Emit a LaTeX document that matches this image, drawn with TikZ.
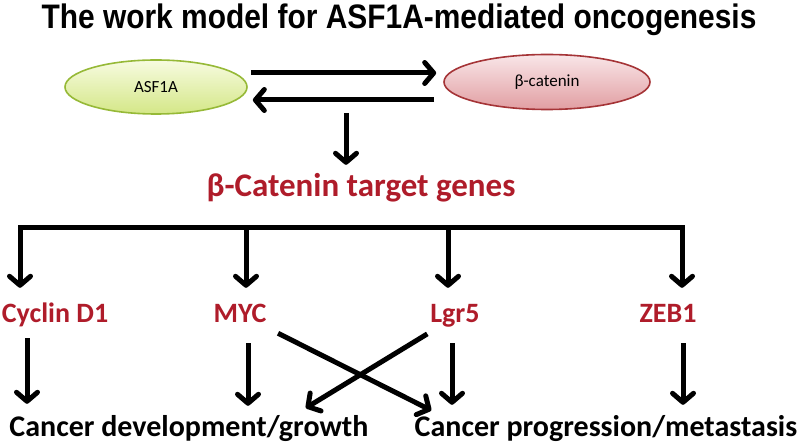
\documentclass[tikz,border=0pt]{standalone}
\usepackage{fontspec}
\setmainfont{Carlito}
\newfontfamily\titlefont{Liberation Sans}
\usetikzlibrary{arrows.meta,shapes.geometric}
\definecolor{genered}{RGB}{175,28,42}
\definecolor{asfedge}{RGB}{150,185,55}
\definecolor{asftop}{RGB}{247,251,224}
\definecolor{asfbottom}{RGB}{212,231,135}
\definecolor{catedge}{RGB}{165,52,55}
\definecolor{cattop}{RGB}{249,230,232}
\definecolor{catbottom}{RGB}{225,158,162}

\begin{document}
\begin{tikzpicture}[
  x=1pt, y=-1pt,
  protein/.style={ellipse, line width=1.6pt, minimum width=182pt, minimum height=54pt, font=\fontsize{17}{20}\selectfont},
  gene/.style={font=\bfseries\fontsize{28}{32}\selectfont, text=genered, inner sep=0pt, text height=20pt, text depth=6pt, anchor=base},
  outcome/.style={font=\bfseries\fontsize{30}{34}\selectfont, inner sep=0pt, text height=21pt, text depth=6pt, anchor=base},
  arrow/.style={-{Straight Barb[length=9pt,width=21pt,round]}, line width=5pt},
  bar/.style={line width=5pt, line cap=rect}
]
  \useasboundingbox (0,0) rectangle (798,443);

  \node[anchor=base, inner sep=0pt, font=\titlefont\bfseries\fontsize{34}{38}\selectfont] (title) at (399,29) {\scalebox{0.88}[1]{The work model for ASF1A-mediated oncogenesis}};

  % the two proteins
  \node[protein, draw=asfedge, top color=asftop, bottom color=asfbottom] (asf) at (156,87) {ASF1A};
  \node[protein, draw=catedge, top color=cattop, bottom color=catbottom, minimum width=206pt, minimum height=55pt] (bcat) at (547,82) {β-catenin};

  \draw[arrow] ([xshift=3pt,yshift=14pt]asf.east) -- ([xshift=-7pt,yshift=9pt]bcat.west);
  \draw[arrow] ([xshift=-9pt,yshift=-18pt]bcat.west) -- ([xshift=5pt,yshift=-13pt]asf.east);

  \node[gene, font=\bfseries\fontsize{33}{38}\selectfont, text height=23pt] (targets) at (361,197) {β-Catenin target genes};
  \coordinate (split) at (346,113);
  \draw[arrow, shorten >=9pt] (split) -- (split |- targets.north);

  % target genes
  \node[gene] (cyclin) at (55,323) {Cyclin D1};
  \node[gene] (myc) at (240,323) {MYC};
  \node[gene] (lgr) at (455,323) {Lgr5};
  \node[gene] (zeb) at (668,323) {ZEB1};

  \coordinate (b1) at (20,228);
  \coordinate (b2) at (246,228);
  \coordinate (b3) at (448,228);
  \coordinate (b4) at (682,228);
  \draw[bar] (b1) -- (b4);
  \draw[arrow, shorten >=15pt] (b1) -- (b1 |- cyclin.north);
  \draw[arrow, shorten >=15pt] (b2) -- (b2 |- myc.north);
  \draw[arrow, shorten >=15pt] (b3) -- (b3 |- lgr.north);
  \draw[arrow, shorten >=15pt] (b4) -- (b4 |- zeb.north);

  % outcomes
  \node[outcome] (devel) at (189,437) {Cancer development/growth};
  \node[outcome] (progr) at (606,437) {Cancer progression/metastasis};

  \draw[arrow, shorten <=9pt, shorten >=12pt] (cyclin.south -| 27,0) -- (devel.north -| 27,0);
  \draw[arrow, shorten <=14pt, shorten >=10pt] (myc.south -| 248,0) -- (devel.north -| 248,0);
  \draw[arrow, shorten <=14pt, shorten >=11pt] (lgr.south -| 452,0) -- (progr.north -| 452,0);
  \draw[arrow, shorten <=14pt, shorten >=11pt] (zeb.south -| 683,0) -- (progr.north -| 683,0);
  \draw[arrow, shorten <=9pt, shorten >=12pt] (myc.south -| 270,0) -- (progr.north -| 442,0);
  \draw[arrow, shorten <=9pt, shorten >=15pt] (lgr.south -| 435,0) -- (devel.north -| 293,0);
\end{tikzpicture}
\end{document}
